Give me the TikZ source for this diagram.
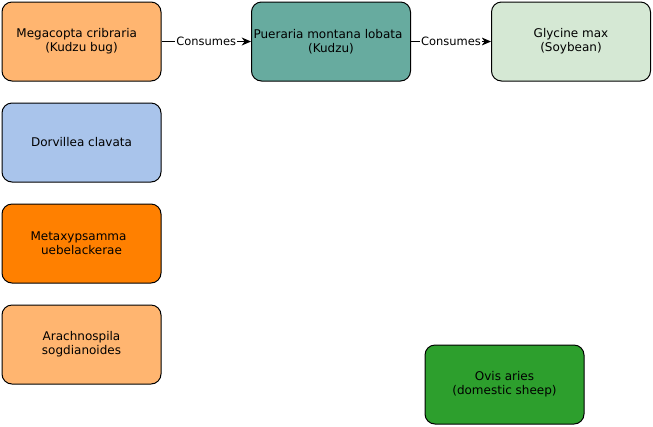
\documentclass[tikz,border=0pt]{standalone}
\usepackage{fontspec}
\setmainfont{DejaVu Sans}
\usetikzlibrary{arrows.meta}
\definecolor{kudzubug}{HTML}{FFB570}
\definecolor{kudzu}{HTML}{67AB9F}
\definecolor{soybean}{HTML}{D5E8D4}
\definecolor{dorvillea}{HTML}{A9C4EB}
\definecolor{metaxy}{HTML}{FF8000}
\definecolor{sheep}{HTML}{2D9F2D}
\tikzset{
    species/.style={draw=black, line width=0.75pt, rounded corners=7.5pt,
        minimum width=119.25pt, minimum height=59.25pt, inner sep=0pt,
        align=center, font=\fontsize{9pt}{10.5pt}\selectfont},
    eats/.style={-{Stealth[length=7pt,width=6pt]}, line width=0.75pt},
    eatlabel/.style={fill=white, inner sep=1pt, font=\fontsize{8.6pt}{9pt}\selectfont}
}
\begin{document}
\begin{tikzpicture}[x=0.75pt, y=-0.75pt]
    \useasboundingbox (0,0) rectangle (653,426);
    % Food chain row
    \node[species, fill=kudzubug] (bug) at (81.5,41.5) {Megacopta cribraria\hspace*{0.8em}\\(Kudzu bug)};
    \node[species, fill=kudzu] (kudzu) at (331,41.5) {Pueraria montana lobata\hspace*{0.5em}\\(Kudzu)};
    \node[species, fill=soybean] (soy) at (571,41.5) {Glycine max\\(Soybean)};

    % Other species
    \node[species, fill=dorvillea] (dorv) at (81.5,142.5) {Dorvillea clavata};
    \node[species, fill=metaxy] (metaxy) at (81.5,243.5) {Metaxypsamma\hspace*{0.5em}\\uebelackerae};
    \node[species, fill=kudzubug] (arach) at (81.5,344.5) {Arachnospila\\sogdianoides};
    \node[species, fill=sheep] (ovis) at (504.5,384.5) {Ovis aries\\(domestic sheep)};

    % Consumes edges
    \draw[eats] (bug) -- node[eatlabel] {Consumes} (kudzu);
    \draw[eats] (kudzu) -- node[eatlabel] {Consumes} (soy);
\end{tikzpicture}
\end{document}
